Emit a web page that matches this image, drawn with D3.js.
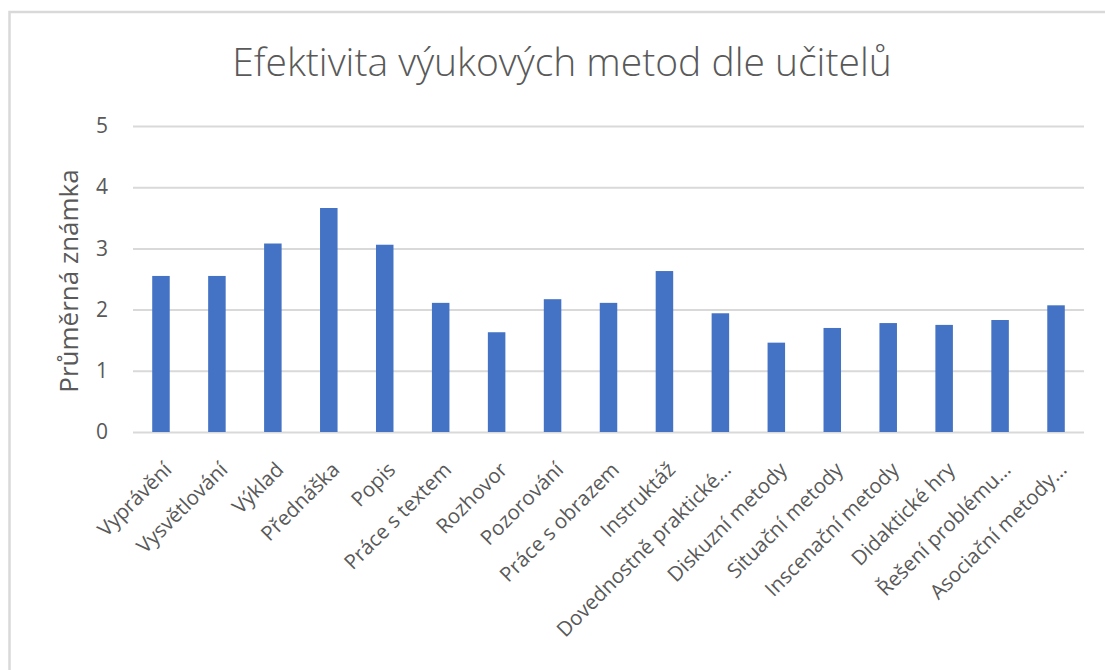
<!DOCTYPE html>
<html>
<head>
<meta charset="utf-8">
<script src="https://cdn.jsdelivr.net/npm/d3@7"></script>
<style>
  html, body { margin: 0; padding: 0; background: #fff; }
  svg { display: block; font-family: 'Open Sans', 'Noto Sans', sans-serif; }
</style>
</head>
<body>
<script>
/*
 * Data: average grade per teaching method.
 */

const METHODS = [
  'Vyprávění', 'Vysvětlování', 'Výklad', 'Přednáška', 'Popis',
  'Práce s textem', 'Rozhovor', 'Pozorování', 'Práce s obrazem', 'Instruktáž',
  'Dovednostně praktické…', 'Diskuzní metody', 'Situační metody',
  'Inscenační metody', 'Didaktické hry', 'Řešení problému…', 'Asociační metody…'
];

const GRADES = [
  2.55, 2.55, 3.08, 3.66, 3.06,
  2.11, 1.63, 2.17, 2.11, 2.63,
  1.94, 1.46, 1.70, 1.78, 1.75, 1.83, 2.07
];

const Y_TICKS = [0, 1, 2, 3, 4, 5];

const TITLE = 'Efektivita výukových metod dle učitelů';
const Y_TITLE = 'Průměrná známka';

/*
 * Layout parameters.
 */

const WIDTH = 1105;
const HEIGHT = 670;
const PLOT_LEFT = 133;
const PLOT_RIGHT = 1084;
const PLOT_TOP = 126;
const PLOT_BOT = 432;

const BAR_COLOR = '#4472c4';
const GRID_COLOR = '#d9d9d9';
const TEXT_COLOR = '#595959';

const svg = d3.select('body')
  .append('svg')
    .attr('width', WIDTH)
    .attr('height', HEIGHT);

// chart area frame (runs off the right and bottom edges)
svg.append('rect')
    .attr('x', 9.5)
    .attr('y', 12)
    .attr('width', 1120)
    .attr('height', 700)
    .attr('fill', '#fff')
    .attr('stroke', GRID_COLOR)
    .attr('stroke-width', 2.5);

// scales
const xScale = d3.scaleBand()
    .domain(METHODS)
    .range([PLOT_LEFT, PLOT_RIGHT])
    .paddingInner(0.687)
    .paddingOuter(0.3435);

const yScale = d3.scaleLinear()
    .domain([0, 5])
    .range([PLOT_BOT, PLOT_TOP]);

// title
svg.append('text')
    .attr('x', 562)
    .attr('y', 76)
    .attr('text-anchor', 'middle')
    .attr('fill', TEXT_COLOR)
    .style('font-size', '39px')
    .style('font-weight', 300)
    .text(TITLE);

// y axis: gridlines and tick labels
const yAxis = d3.axisLeft(yScale)
    .tickValues(Y_TICKS)
    .tickSize(-(PLOT_RIGHT - PLOT_LEFT))
    .tickPadding(25)
    .tickFormat(d3.format('d'));

const yAxisG = svg.append('g')
    .attr('transform', `translate(${PLOT_LEFT}, 0)`)
    .call(yAxis);

yAxisG.select('.domain').remove();
yAxisG.selectAll('line')
    .attr('stroke', GRID_COLOR)
    .attr('stroke-width', 2);
yAxisG.selectAll('text')
    .attr('fill', TEXT_COLOR)
    .style('font-size', '21px')
    .style('font-family', "'Open Sans', sans-serif");

// y axis title
svg.append('text')
    .attr('transform', 'translate(78, 281) rotate(-90)')
    .attr('text-anchor', 'middle')
    .attr('fill', TEXT_COLOR)
    .style('font-size', '26px')
    .text(Y_TITLE);

// bars
svg.append('g')
  .selectAll('rect')
  .data(METHODS)
  .enter()
  .append('rect')
    .attr('x', d => xScale(d))
    .attr('y', (d, i) => yScale(GRADES[i]))
    .attr('width', xScale.bandwidth())
    .attr('height', (d, i) => yScale(0) - yScale(GRADES[i]))
    .attr('fill', BAR_COLOR);

// x axis labels, rotated
const xAxis = d3.axisBottom(xScale)
    .tickSize(0)
    .tickPadding(0);

const xAxisG = svg.append('g')
    .attr('transform', `translate(0, ${PLOT_BOT})`)
    .call(xAxis);

xAxisG.select('.domain').remove();
xAxisG.selectAll('text')
    .attr('fill', TEXT_COLOR)
    .attr('y', 0)
    .attr('dy', 0)
    .attr('text-anchor', 'end')
    .attr('transform', 'translate(12, 39) rotate(-45)')
    .style('font-size', '20.5px')
    .style('font-family', "'Open Sans', sans-serif");
</script>
</body>
</html>
